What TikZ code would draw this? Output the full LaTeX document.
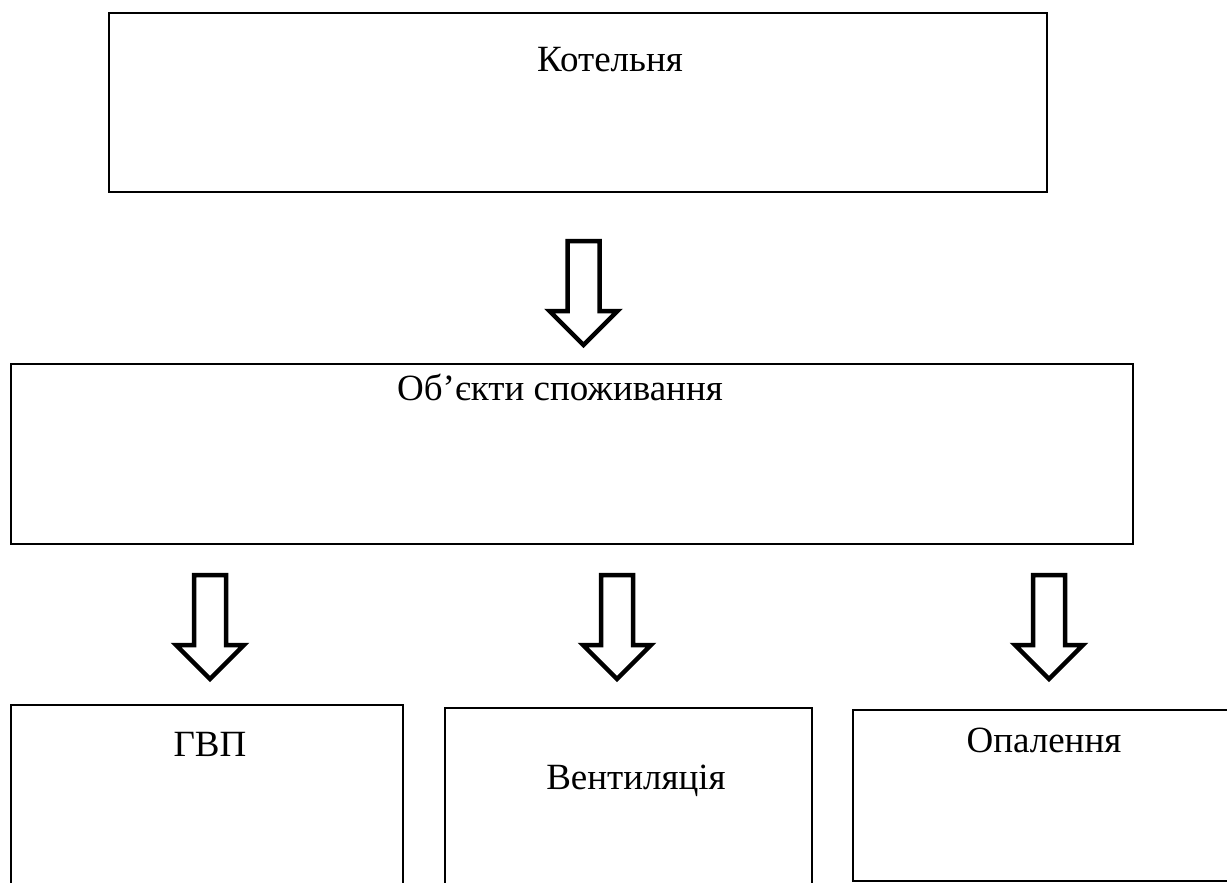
\documentclass[tikz,border=0pt]{standalone}
\usepackage{fontspec}
\setmainfont{Liberation Serif}
\begin{document}
\begin{tikzpicture}[x=1pt,y=-1pt,
  boxline/.style={draw=black,line width=2.2pt},
  lbl/.style={anchor=base,inner sep=0pt,font=\fontsize{37}{44}\selectfont},
  hollowarrow/.pic={\draw[line width=4.5pt,line join=miter,fill=white]
     (-16,-2) -- (-16,-72) -- (-34,-72) -- (0,-106) -- (34,-72) -- (16,-72) -- (16,-2) -- cycle;}]
\useasboundingbox (0,0) rectangle (1227,883);
\clip (0,0) rectangle (1227,883);
\fill[white] (0,0) rectangle (1227,883);
% boxes
\draw[boxline] (109,13) rectangle (1047,192) coordinate (kotelnyaBox);
\draw[boxline] (11,364) rectangle (1133,544) coordinate (objBox);
\draw[boxline] (11,705) rectangle (403,890) coordinate (gvpBox);
\draw[boxline] (445,708) rectangle (812,890) coordinate (ventBox);
\draw[boxline] (853,710) rectangle (1235,881) coordinate (opalBox);
% labels
\node[lbl] (t1) at (610,72) {Котельня};
\node[lbl] (t2) at (560,400) {Об’єкти споживання};
\node[lbl] (t3) at (210,756) {ГВП};
\node[lbl] (t4) at (636,789) {Вентиляція};
\node[lbl] (t5) at (1044,752) {Опалення};
% arrows
\coordinate (a1) at (583.5,239);
\coordinate (a2) at (210,573);
\coordinate (a3) at (617,573);
\coordinate (a4) at (1049,573);
\pic[yscale=-1] at (a1) {hollowarrow};
\pic[yscale=-1] at (a2) {hollowarrow};
\pic[yscale=-1] at (a3) {hollowarrow};
\pic[yscale=-1] at (a4) {hollowarrow};
\end{tikzpicture}
\end{document}
